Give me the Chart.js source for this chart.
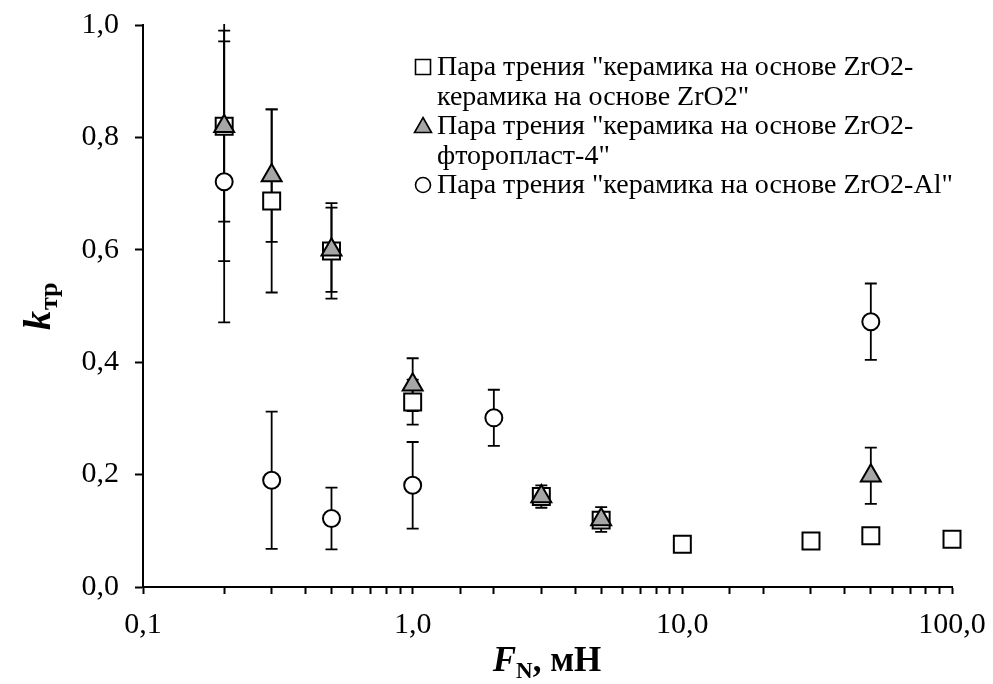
<!DOCTYPE html>
<html>
<head>
<meta charset="utf-8">
<script src="https://cdn.jsdelivr.net/npm/chart.js@4/dist/chart.umd.min.js"></script>
<style>
  html, body { margin: 0; padding: 0; background: #fff; }
</style>
</head>
<body>
<canvas id="chart" width="993" height="684"></canvas>
<script>
// Пара трения ZrO2 - ZrO2 (квадраты)
const squareX = [0.2, 0.3, 0.5, 1, 3, 5, 10, 30, 50, 100];
const squareY = [0.82, 0.687, 0.598, 0.329, 0.161, 0.119, 0.076, 0.082, 0.091, 0.085];
const squareErr = [0.17, 0.163, 0.085, 0.04, 0.012, 0.01, 0, 0, 0, 0];

// Пара трения ZrO2 - фторопласт-4 (треугольники)
const triangleX = [0.2, 0.3, 0.5, 1, 3, 5, 50];
const triangleY = [0.82, 0.732, 0.6, 0.36, 0.161, 0.12, 0.198];
const triangleErr = [0.24, 0.118, 0.075, 0.047, 0.02, 0.022, 0.05];

// Пара трения ZrO2 - Al (кружки)
const circleX = [0.2, 0.3, 0.5, 1, 2, 50];
const circleY = [0.721, 0.19, 0.122, 0.181, 0.301, 0.472];
const circleErr = [0.25, 0.122, 0.055, 0.077, 0.05, 0.068];

const legendLines = [
  ['rect', 'Пара трения "керамика на основе ZrO2-'],
  [null, 'керамика на основе ZrO2"'],
  ['triangle', 'Пара трения "керамика на основе ZrO2-'],
  [null, 'фторопласт-4"'],
  ['circle', 'Пара трения "керамика на основе ZrO2-Al"'],
];

const yTicks = [0, 0.2, 0.4, 0.6, 0.8, 1.0];

const toPoints = (xs, ys) => xs.map((x, i) => ({ x, y: ys[i] }));
const comma = (v) => v.toFixed(1).replace(".", ",");

const SERIF = '"Liberation Serif", "Times New Roman", serif';
const GRAY = "#a6a6a6";

// усы погрешностей (под маркерами)
const errorBars = {
  id: "errorBars",
  beforeDatasetsDraw(chart) {
    const { ctx, chartArea } = chart;
    const xs = chart.scales.x;
    const ys = chart.scales.y;
    ctx.save();
    ctx.beginPath();
    ctx.rect(chartArea.left, chartArea.top - 1, chartArea.width + 10, chartArea.height + 1);
    ctx.clip();
    ctx.strokeStyle = "#000";
    ctx.lineWidth = 1.8;
    chart.data.datasets.forEach((ds) => {
      (ds.errors || []).forEach((e, i) => {
        if (!e) return;
        const p = ds.data[i];
        const px = xs.getPixelForValue(p.x);
        const top = ys.getPixelForValue(p.y + e);
        const bot = ys.getPixelForValue(p.y - e);
        ctx.beginPath();
        ctx.moveTo(px, top);
        ctx.lineTo(px, bot);
        ctx.moveTo(px - 6, top);
        ctx.lineTo(px + 6, top);
        ctx.moveTo(px - 6, bot);
        ctx.lineTo(px + 6, bot);
        ctx.stroke();
      });
    });
    ctx.restore();
  },
};

function drawMarker(ctx, style, x, y) {
  ctx.save();
  ctx.lineWidth = 1.6;
  ctx.strokeStyle = "#000";
  ctx.beginPath();
  if (style === "rect") {
    ctx.rect(x - 7.5, y - 7.5, 15, 15);
    ctx.fillStyle = "#fff";
  } else if (style === "triangle") {
    ctx.moveTo(x, y - 8.5);
    ctx.lineTo(x + 8.5, y + 6.5);
    ctx.lineTo(x - 8.5, y + 6.5);
    ctx.closePath();
    ctx.fillStyle = GRAY;
  } else {
    ctx.arc(x, y, 7.5, 0, Math.PI * 2);
    ctx.fillStyle = "#fff";
  }
  ctx.fill();
  ctx.stroke();
  ctx.restore();
}

// легенда и подписи осей
const annotations = {
  id: "annotations",
  afterDraw(chart) {
    const { ctx } = chart;
    ctx.save();
    ctx.fillStyle = "#000";
    ctx.textBaseline = "middle";
    ctx.font = "28px " + SERIF;
    legendLines.forEach(([style, text], i) => {
      const y = 67 + i * 29.5;
      if (style) drawMarker(ctx, style, 423, y);
      ctx.fillText(text, 437, y + 1);
    });

    // подпись оси Y: k_тр
    ctx.textBaseline = "alphabetic";
    ctx.save();
    ctx.translate(50, 330);
    ctx.rotate(-Math.PI / 2);
    ctx.font = "bold italic 38px " + SERIF;
    ctx.fillText("k", 0, 0);
    const kw = ctx.measureText("k").width;
    ctx.font = "bold 26px " + SERIF;
    ctx.fillText("тр", kw + 1, 7);
    ctx.restore();

    // подпись оси X: F_N, мН
    ctx.font = "bold italic 35px " + SERIF;
    const fw = ctx.measureText("F").width;
    ctx.font = "bold 23px " + SERIF;
    const nw = ctx.measureText("N").width;
    ctx.font = "bold 35px " + SERIF;
    const rw = ctx.measureText(", мН").width;
    let x0 = 547 - (fw + nw + rw) / 2;
    const base = 671;
    ctx.font = "bold italic 35px " + SERIF;
    ctx.fillText("F", x0, base);
    ctx.font = "bold 23px " + SERIF;
    ctx.fillText("N", x0 + fw, base + 7);
    ctx.font = "bold 35px " + SERIF;
    ctx.fillText(", мН", x0 + fw + nw, base);
    ctx.restore();
  },
};

const axisGrid = {
  drawOnChartArea: false,
  drawTicks: true,
  tickLength: 7,
  tickColor: "#000",
  tickWidth: 2,
};

// оси не должны сами отодвигать область построения
function fixX(s) {
  s.height = 97;
  s.paddingLeft = 0;
  s.paddingRight = 0;
}
function fixY(s) {
  s.width = 143;
  s.paddingTop = 0;
  s.paddingBottom = 0;
}

new Chart(document.getElementById("chart"), {
  type: "scatter",
  data: {
    datasets: [
      {
        label: "ZrO2-ZrO2",
        data: toPoints(squareX, squareY),
        errors: squareErr,
        pointStyle: "rect",
        pointRadius: 12,
        pointBackgroundColor: "#fff",
        pointBorderColor: "#000",
        pointBorderWidth: 2,
        clip: false,
        order: 1,
      },
      {
        label: "ZrO2-фторопласт-4",
        data: toPoints(triangleX, triangleY),
        errors: triangleErr,
        pointStyle: "triangle",
        pointRadius: 11.5,
        pointBackgroundColor: GRAY,
        pointBorderColor: "#000",
        pointBorderWidth: 2,
        clip: false,
        order: 0,
      },
      {
        label: "ZrO2-Al",
        data: toPoints(circleX, circleY),
        errors: circleErr,
        pointStyle: "circle",
        pointRadius: 8.5,
        pointBackgroundColor: "#fff",
        pointBorderColor: "#000",
        pointBorderWidth: 2,
        clip: false,
        order: 2,
      },
    ],
  },
  options: {
    responsive: false,
    animation: false,
    layout: { padding: { top: 25, right: 41, left: 0, bottom: 0 } },
    plugins: {
      legend: { display: false },
      tooltip: { enabled: false },
    },
    scales: {
      x: {
        type: "logarithmic",
        min: 0.1,
        max: 100,
        afterFit: fixX,
        border: { display: true, color: "#000", width: 2 },
        grid: axisGrid,
        ticks: {
          autoSkip: false,
          maxRotation: 0,
          padding: 13,
          color: "#000",
          font: { family: SERIF, size: 30 },
          callback: (v) => {
            const l = Math.log10(v);
            return Math.abs(l - Math.round(l)) < 1e-6 ? comma(v) : "";
          },
        },
      },
      y: {
        type: "linear",
        min: 0,
        max: 1,
        afterFit: fixY,
        afterBuildTicks: (s) => { s.ticks = yTicks.map((v) => ({ value: v })); },
        border: { display: true, color: "#000", width: 2 },
        grid: Object.assign({}, axisGrid, { tickLength: 8 }),
        ticks: {
          padding: 16,
          color: "#000",
          font: { family: SERIF, size: 30 },
          callback: (v) => comma(v),
        },
      },
    },
  },
  plugins: [errorBars, annotations],
});
</script>
</body>
</html>
